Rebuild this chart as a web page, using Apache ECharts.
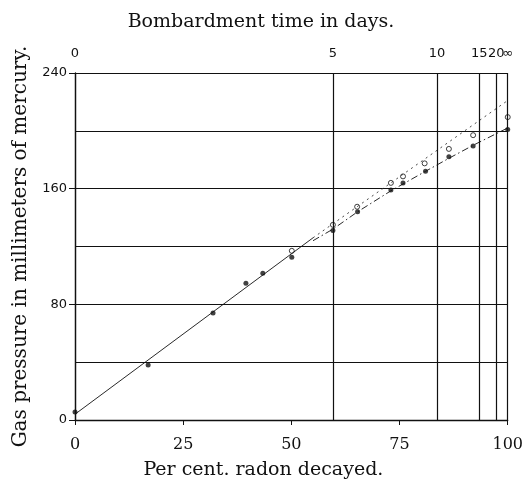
<!DOCTYPE html>
<html>
<head>
<meta charset="utf-8">
<script src="https://cdn.jsdelivr.net/npm/echarts@6/dist/echarts.min.js"></script>
<style>
  html, body { margin: 0; padding: 0; background: #fff; }
  #chart { width: 526px; height: 487px; }
</style>
</head>
<body>
<div id="chart"></div>
<script>
// ---- Data ----
// Filled points: per cent radon decayed vs gas pressure (mm Hg)
const filledX = [0, 16.9, 31.9, 39.5, 43.4, 50.1, 59.6, 65.3, 73.0, 75.8, 81.0, 86.4, 92.0, 100];
const filledY = [5.5, 38, 74, 94.5, 101.5, 112.5, 131, 144, 159, 164, 172, 182, 189.5, 201];
// Open points
const openX = [50.1, 59.6, 65.2, 73.0, 75.8, 80.8, 86.4, 92.0, 100];
const openY = [117, 135, 147.5, 164, 168.5, 177.5, 187.5, 197, 209.5];
// Common solid line (start part)
const mainLineX = [0, 55];
const mainLineY = [4, 126];
// Upper dotted line
const upperLineX = [55, 100];
const upperLineY = [126, 221];
// Lower dash-dot line
const lowerLineX = [55, 59.6, 65.3, 73, 81, 86.4, 92, 100];
const lowerLineY = [124, 132, 144, 158.5, 172, 181, 190, 202];
// Bombardment time (days) on the top scale
const dayValues = [0, 5, 10, 15, 20, Infinity];
const dayLabels = ['0', '5', '10', '15', '20', '\u221E'];
const radonHalfLife = 3.825;
// Axis ticks
const xTicks = [0, 25, 50, 75, 100];
const yLabelTicks = [0, 80, 160, 240];

// ---- Build ----
const pairs = (xs, ys) => xs.map((x, i) => [x, ys[i]]);
const dayPercent = dayValues.map(d => isFinite(d) ? 100 * (1 - Math.pow(2, -d / radonHalfLife)) : 100);

const ink = '#111';
const serif = 'DejaVu Serif';
const sans = 'DejaVu Sans';

const chart = echarts.init(document.getElementById('chart'), null, { renderer: 'canvas' });
chart.setOption({
  backgroundColor: '#fff',
  animation: false,
  title: {
    text: 'Bombardment time in days.',
    left: 256, top: 8, textAlign: 'center',
    textStyle: { fontFamily: serif, fontSize: 19, fontWeight: 'normal', color: ink }
  },
  grid: { left: 75, right: 18, top: 73, bottom: 67, containLabel: false },
  xAxis: [{
    type: 'value', position: 'bottom', min: xTicks[0], max: xTicks[xTicks.length - 1],
    interval: xTicks[1] - xTicks[0],
    name: 'Per cent. radon decayed.', nameLocation: 'middle', nameGap: 41,
    nameTextStyle: { fontFamily: serif, fontSize: 19, color: ink, padding: [0, 56, 0, 0] },
    axisLine: { show: true, onZero: false, lineStyle: { color: ink, width: 1.3 } },
    axisTick: { show: true, inside: false, length: 5, lineStyle: { color: ink } },
    axisLabel: { fontFamily: serif, fontSize: 16, color: ink, margin: 17 },
    splitLine: { show: false }
  }],
  yAxis: [{
    type: 'value', position: 'left', min: 0, max: 240, interval: 40,
    axisLine: { show: true, onZero: false, lineStyle: { color: ink, width: 1.3 } },
    axisTick: { show: false },
    axisLabel: { show: false },
    splitLine: { show: true, lineStyle: { color: ink, width: 1.2 } }
  }, {
    type: 'value', position: 'left', min: 0, max: 240, interval: yLabelTicks[1] - yLabelTicks[0],
    name: 'Gas pressure in millimeters of mercury.', nameLocation: 'middle', nameGap: 42,
    nameRotate: 90,
    nameTextStyle: { fontFamily: serif, fontSize: 20, color: ink },
    axisLine: { show: false },
    axisTick: { show: true, length: 6, lineStyle: { color: ink } },
    axisLabel: { fontFamily: sans, fontSize: 13, color: ink, margin: 8 },
    splitLine: { show: false }
  }],
  series: [{
    type: 'line', data: pairs(mainLineX, mainLineY), showSymbol: false, symbol: 'none',
    lineStyle: { color: ink, width: 0.9, type: 'solid' },
    markLine: {
      silent: true, symbol: ['none', 'none'],
      lineStyle: { color: ink, width: 1.2, type: 'solid' },
      label: { show: true, position: 'end', distance: 13, fontFamily: sans, fontSize: 13, color: ink,
        formatter: p => p.name },
      data: dayPercent.map((v, i) => ({ xAxis: v, name: dayLabels[i] }))
    }
  }, {
    type: 'line', data: pairs(upperLineX, upperLineY), showSymbol: false, symbol: 'none',
    lineStyle: { color: '#333', width: 0.9, type: [2, 4] }
  }, {
    type: 'line', data: pairs(lowerLineX, lowerLineY), showSymbol: false, symbol: 'none',
    lineStyle: { color: ink, width: 0.9, type: [7, 3, 1.5, 3] }
  }, {
    type: 'scatter', data: pairs(filledX, filledY), symbol: 'circle', symbolSize: 5,
    itemStyle: { color: ink }
  }, {
    type: 'scatter', data: pairs(openX, openY), symbol: 'circle', symbolSize: 5,
    itemStyle: { color: '#fff', borderColor: ink, borderWidth: 1 }
  }]
});
</script>
</body>
</html>
